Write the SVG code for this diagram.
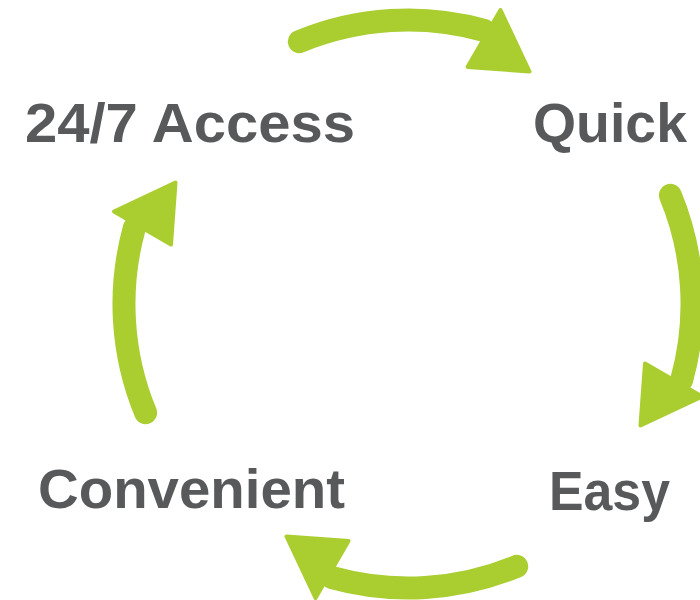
<svg xmlns="http://www.w3.org/2000/svg" xmlns:xlink="http://www.w3.org/1999/xlink" width="700" height="600" viewBox="0 0 700 600">
  <style>
    .label { font-family: "Liberation Sans", Arial, sans-serif; font-weight: bold; font-size: 56px; fill: #58595b; }
    .shaft { fill: none; stroke: #aacd30; stroke-width: 23; stroke-linecap: round; }
    .head { fill: #aacd30; stroke: #aacd30; stroke-width: 4; stroke-linejoin: round; }
  </style>
  <defs>
    <!-- one curved arrow on the cycle circle (centre 408,304, r 284); copies are rotated by 90 degrees -->
    <g id="cycleArrow">
      <path class="shaft" d="M 299.3 41.6 A 284 284 0 0 1 483.9 30.3"/>
      <polygon class="head" points="500.5,10 529.5,71.5 467.5,67"/>
    </g>
  </defs>
  <rect width="700" height="600" fill="#ffffff"/>

  <g id="connectors">
    <use xlink:href="#cycleArrow" href="#cycleArrow"/>
    <use xlink:href="#cycleArrow" href="#cycleArrow" transform="rotate(90 408 304)"/>
    <use xlink:href="#cycleArrow" href="#cycleArrow" transform="rotate(180 408 304)"/>
    <use xlink:href="#cycleArrow" href="#cycleArrow" transform="rotate(270 408 304)"/>
  </g>

  <g id="access">
    <text class="label" x="25" y="142" textLength="330" lengthAdjust="spacingAndGlyphs">24/7 Access</text>
  </g>
  <g id="quick">
    <text class="label" x="533" y="142" textLength="154" lengthAdjust="spacingAndGlyphs">Quick</text>
  </g>
  <g id="easy">
    <text class="label" x="549" y="510" textLength="121" lengthAdjust="spacingAndGlyphs">Easy</text>
  </g>
  <g id="convenient">
    <text class="label" x="38" y="508" textLength="307" lengthAdjust="spacingAndGlyphs">Convenient</text>
  </g>
</svg>
